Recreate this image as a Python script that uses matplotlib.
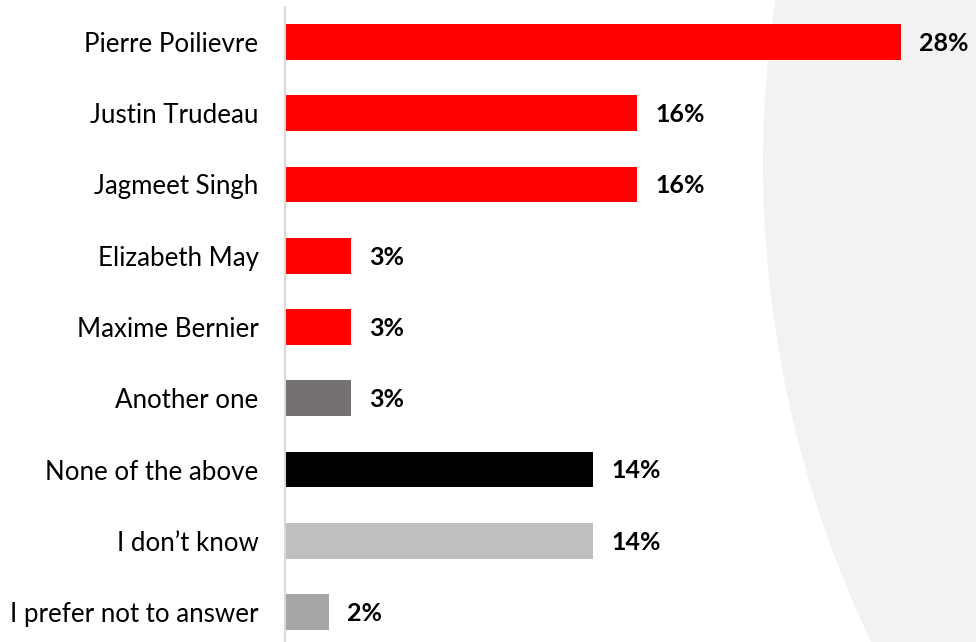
import matplotlib.pyplot as plt
from matplotlib.patches import Ellipse

labels = ['Pierre Poilievre', 'Justin Trudeau', 'Jagmeet Singh', 'Elizabeth May',
          'Maxime Bernier', 'Another one', 'None of the above', 'I don\u2019t know',
          'I prefer not to answer']
values = [28, 16, 16, 3, 3, 3, 14, 14, 2]
colors = ['#FF0000', '#FF0000', '#FF0000', '#FF0000', '#FF0000',
          '#767171', '#000000', '#BFBFBF', '#A6A6A6']

plt.rcParams['font.family'] = ['Lato', 'DejaVu Sans']

fig = plt.figure(figsize=(9.76, 6.42), dpi=100)

# light grey curved panel on the right side (big circle, sized in pixels)
R = 1110
circ = Ellipse(((763 + R) / 976, 1 - 164 / 642), 2 * R / 976, 2 * R / 642,
               transform=fig.transFigure, facecolor='#F2F2F2', edgecolor='none', zorder=-1)
fig.patches.append(circ)

ax = fig.add_axes([285 / 976, 0, 691 / 976, 635 / 642])
ax.set_facecolor('none')

y = list(range(len(labels)))
ax.barh(y, values, height=0.5, color=colors, zorder=2)

for yi, v in zip(y, values):
    ax.annotate(f'{v}%', (v, yi), xytext=(13, -1), textcoords='offset points',
                va='center', ha='left', fontsize=18, fontweight='bold')

ax.set_xlim(0, 691 / 22)
ax.set_ylim(8.42, -0.49)
ax.set_yticks(y)
ax.set_yticklabels(labels, fontsize=18.6)
ax.tick_params(axis='y', length=0, pad=19)
ax.set_xticks([])
for s in ['top', 'right', 'bottom']:
    ax.spines[s].set_visible(False)
ax.spines['left'].set_color('#D9D9D9')
ax.spines['left'].set_linewidth(1.5)

fig.savefig('out.png', dpi=100)
